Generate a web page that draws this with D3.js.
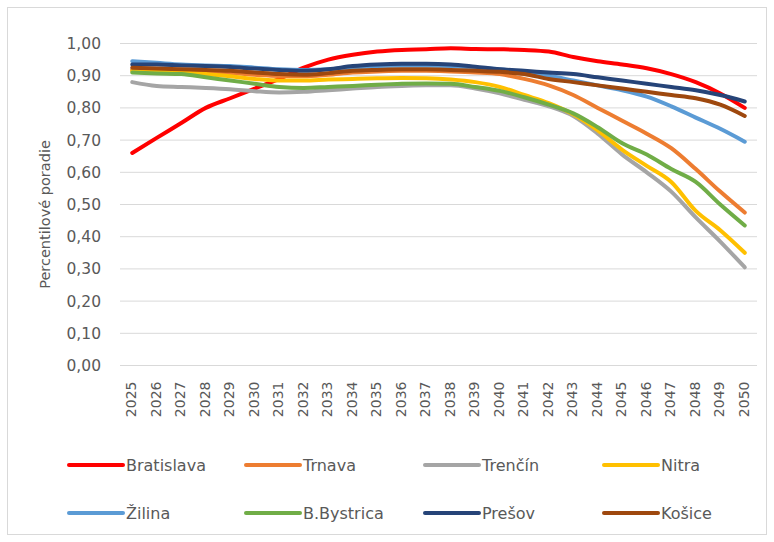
<!DOCTYPE html>
<html><head><meta charset="utf-8">
<script src="https://cdn.jsdelivr.net/npm/d3@7"></script>
<style>body{margin:0;background:#fff}svg{display:block}text{font-family:"DejaVu Sans",sans-serif;fill:#595959}</style>
</head><body><svg id="c" width="774" height="542"></svg>
<script>
const years = d3.range(2025, 2051).map(String);
const yTicks = [0,0.1,0.2,0.3,0.4,0.5,0.6,0.7,0.8,0.9,1.0];
const names = ["Bratislava","Trnava","Trenčín","Nitra","Žilina","B.Bystrica","Prešov","Košice"];
const colors = ["#ff0000","#ed7d31","#a5a5a5","#ffc000","#5b9bd5","#70ad47","#264478","#9e480e"];
const bratislava = [0.66,0.707,0.753,0.80,0.83,0.86,0.89,0.925,0.95,0.965,0.975,0.98,0.982,0.985,0.983,0.982,0.98,0.975,0.958,0.945,0.935,0.923,0.905,0.88,0.845,0.80];
const trnava     = [0.918,0.915,0.912,0.91,0.908,0.903,0.899,0.898,0.903,0.91,0.913,0.915,0.915,0.913,0.91,0.905,0.89,0.87,0.84,0.80,0.76,0.72,0.675,0.61,0.54,0.475];
const trencin    = [0.88,0.868,0.865,0.862,0.858,0.852,0.848,0.85,0.855,0.86,0.865,0.868,0.87,0.87,0.86,0.845,0.825,0.805,0.775,0.72,0.655,0.60,0.54,0.46,0.385,0.305];
const nitra      = [0.915,0.912,0.91,0.905,0.898,0.89,0.885,0.885,0.888,0.89,0.892,0.893,0.892,0.888,0.88,0.865,0.84,0.815,0.78,0.73,0.67,0.62,0.57,0.48,0.42,0.35];
const zilina     = [0.945,0.94,0.935,0.932,0.93,0.925,0.92,0.918,0.92,0.925,0.93,0.932,0.932,0.93,0.925,0.92,0.91,0.90,0.885,0.87,0.855,0.835,0.805,0.77,0.735,0.695];
const bbystrica  = [0.91,0.907,0.905,0.895,0.885,0.875,0.865,0.862,0.865,0.868,0.872,0.875,0.876,0.875,0.865,0.853,0.833,0.81,0.783,0.74,0.69,0.655,0.61,0.57,0.50,0.435];
const presov     = [0.935,0.935,0.932,0.93,0.927,0.922,0.918,0.915,0.92,0.93,0.935,0.937,0.937,0.935,0.928,0.92,0.915,0.91,0.905,0.895,0.885,0.875,0.865,0.855,0.84,0.82];
const kosice     = [0.925,0.922,0.92,0.918,0.915,0.91,0.905,0.903,0.908,0.915,0.918,0.92,0.92,0.918,0.915,0.912,0.905,0.89,0.88,0.87,0.86,0.85,0.84,0.83,0.81,0.775];
const seriesValues = [bratislava,trnava,trencin,nitra,zilina,bbystrica,presov,kosice];

const svg = d3.select("#c");
const L = 120, R = 757, T = 43.5, B = 365.5;
svg.append("rect").attr("x",7.5).attr("y",7.5).attr("width",759).attr("height",527).attr("fill","none").attr("stroke","#d9d9d9");

const x = d3.scaleBand().domain(years).range([L,R]);
const y = d3.scaleLinear().domain([0,1]).range([B,T]);
const fmt = v => d3.format(".2f")(v).replace(".",",");

const ga = svg.append("g");
ga.selectAll("line.g").data(yTicks).join("line")
  .attr("x1",L).attr("x2",R).attr("y1",d=>y(d)).attr("y2",d=>y(d))
  .attr("stroke","#d9d9d9").attr("stroke-width",1);
ga.selectAll("text.y").data(yTicks).join("text")
  .attr("x",101).attr("y",d=>y(d)).attr("dy","0.36em").attr("text-anchor","end")
  .attr("font-size",15.5).text(fmt);
ga.selectAll("text.x").data(years).join("text")
  .attr("transform",d=>`translate(${x(d)+x.bandwidth()/2+4},${B+16}) rotate(-90)`)
  .attr("text-anchor","end").attr("font-size",14).text(d=>d);
svg.append("text").attr("transform",`translate(50,${(T+B)/2+10}) rotate(-90)`)
  .attr("text-anchor","middle").attr("font-size",14.5).text("Percentilové poradie");

const line = d3.line().x((d,i)=>x(years[i])+x.bandwidth()/2).y(d=>y(d)).curve(d3.curveMonotoneX);
seriesValues.forEach((vals,k)=>{
  svg.append("path").attr("d",line(vals)).attr("fill","none")
    .attr("stroke",colors[k]).attr("stroke-width",4).attr("stroke-linecap","round").attr("stroke-linejoin","round");
});

const lg = svg.append("g");
const legX = [69,246,425,604], legY = [465,513];
names.forEach((n,k)=>{
  const gx = legX[k%4], gy = legY[Math.floor(k/4)];
  lg.append("line").attr("x1",gx).attr("x2",gx+54).attr("y1",gy).attr("y2",gy)
    .attr("stroke",colors[k]).attr("stroke-width",4).attr("stroke-linecap","round");
  lg.append("text").attr("x",gx+57).attr("y",gy).attr("dy","0.36em").attr("font-size",16).text(n);
});
</script></body></html>
